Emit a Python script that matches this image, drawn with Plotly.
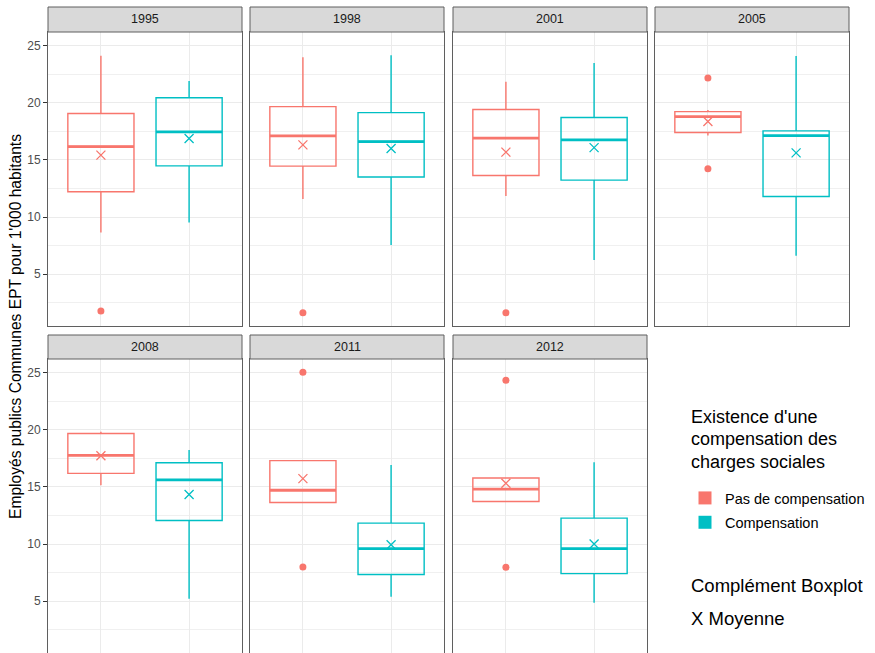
import plotly.graph_objects as go

# ---------------- data ----------------
years = ["1995", "1998", "2001", "2005", "2008", "2011", "2012"]
groups = ["Pas de compensation", "Compensation"]

red_lo   = [8.65, 11.57, 11.84, 17.13, 15.15, 13.63, 13.72]
red_q1   = [12.21, 14.46, 13.64, 17.40, 16.19, 13.63, 13.72]
red_med  = [16.17, 17.11, 16.90, 18.79, 17.76, 14.71, 14.80]
red_q3   = [19.06, 19.67, 19.41, 19.23, 19.68, 17.30, 15.78]
red_hi   = [24.13, 23.98, 21.85, 19.38, 19.83, 17.30, 15.78]
red_mean = [15.42, 16.32, 15.68, 18.36, 17.73, 15.73, 15.32]
red_out  = [[1.78], [1.63], [1.63], [22.18, 14.22], [], [25.03, 7.99], [24.33, 7.97]]

teal_lo   = [9.53, 7.55, 6.24, 6.62, 5.20, 5.38, 4.85]
teal_q1   = [14.48, 13.50, 13.23, 11.80, 12.06, 7.33, 7.41]
teal_med  = [17.46, 16.61, 16.76, 17.13, 15.61, 9.59, 9.59]
teal_q3   = [20.45, 19.14, 18.71, 17.54, 17.12, 11.83, 12.27]
teal_hi   = [21.91, 24.16, 23.49, 24.10, 18.23, 16.92, 17.15]
teal_mean = [16.87, 16.00, 16.08, 15.62, 14.33, 9.94, 10.00]
teal_out  = [[], [], [], [], [], [], []]

y_ticks = [5, 10, 15, 20, 25]
y_minor = [2.5, 7.5, 12.5, 17.5, 22.5]

legend_title_lines = ["Existence d'une", "compensation des", "charges sociales"]

# ---------------- style ----------------
W, H = 875, 653
RED, TEAL = "#F8766D", "#00BFC4"
FONT = "Liberation Sans, Arial, sans-serif"
BORDER = "#5f5f5f"
BOX_W = 0.75

col_px = [(48, 242), (250, 444), (453, 647), (655, 849)]
row_px = [((7, 32), (32, 326)), ((335, 359), (359, 653))]

all_vals = red_lo + teal_lo + red_hi + teal_hi + [v for o in red_out + teal_out for v in o]
vmin, vmax = min(all_vals), max(all_vals)
pad = 0.05 * (vmax - vmin)
y_range = [vmin - pad, vmax + pad]

series = [
    (groups[0], RED, red_lo, red_q1, red_med, red_q3, red_hi, red_mean, red_out),
    (groups[1], TEAL, teal_lo, teal_q1, teal_med, teal_q3, teal_hi, teal_mean, teal_out),
]

fig = go.Figure()
shapes, annotations = [], []

for i, yr in enumerate(years):
    r, c = divmod(i, 4)
    n = i + 1
    xr = "x" if n == 1 else f"x{n}"
    yrf = "y" if n == 1 else f"y{n}"
    for gi, (name, color, lo, q1, med, q3, hi, mean, out) in enumerate(series):
        pos = gi + 1
        fig.add_trace(go.Box(
            x=[pos], q1=[q1[i]], median=[med[i]], q3=[q3[i]],
            lowerfence=[lo[i]], upperfence=[hi[i]],
            width=BOX_W, whiskerwidth=0, boxpoints=False,
            line=dict(color=color, width=1.4), fillcolor="rgba(255,255,255,0)",
            xaxis=xr, yaxis=yrf, showlegend=False, hoverinfo="skip"))
        # thick median
        fig.add_trace(go.Scatter(
            x=[pos - BOX_W / 2, pos + BOX_W / 2], y=[med[i], med[i]], mode="lines",
            line=dict(color=color, width=2.8), xaxis=xr, yaxis=yrf,
            showlegend=False, hoverinfo="skip"))
        # mean
        fig.add_trace(go.Scatter(
            x=[pos], y=[mean[i]], mode="markers",
            marker=dict(symbol="x-thin-open", size=9, color=color,
                        line=dict(color=color, width=1.3)),
            xaxis=xr, yaxis=yrf, showlegend=False, hoverinfo="skip"))
        # outliers
        if out[i]:
            fig.add_trace(go.Scatter(
                x=[pos] * len(out[i]), y=out[i], mode="markers",
                marker=dict(symbol="circle", size=7, color=color),
                xaxis=xr, yaxis=yrf, showlegend=False, hoverinfo="skip"))

    (s0, s1), (p0, p1) = row_px[r]
    x0, x1 = col_px[c]
    fig.layout[f"xaxis{'' if n == 1 else n}"] = dict(
        domain=[x0 / W, x1 / W], range=[0.4, 2.6], tickvals=[1, 2],
        showticklabels=False, ticks="", showgrid=True, gridcolor="#EBEBEB", gridwidth=1.1,
        zeroline=False, showline=True, mirror=True, linecolor=BORDER, linewidth=1,
        anchor=yrf, fixedrange=True)
    fig.layout[f"yaxis{'' if n == 1 else n}"] = dict(
        domain=[1 - p1 / H, 1 - p0 / H], range=y_range, tickvals=y_ticks,
        showticklabels=(c == 0), ticks="outside" if c == 0 else "", ticklen=4,
        tickcolor="#333333", tickwidth=1,
        tickfont=dict(size=12, color="#4D4D4D", family=FONT),
        showgrid=True, gridcolor="#EBEBEB", gridwidth=1.1,
        minor=dict(tickvals=y_minor, showgrid=True, gridcolor="#F0F0F0", gridwidth=0.6),
        zeroline=False, showline=True, mirror=True, linecolor=BORDER, linewidth=1,
        anchor=xr, fixedrange=True)
    # strip
    shapes.append(dict(type="rect", xref="paper", yref="paper",
                       x0=x0 / W, x1=x1 / W, y0=1 - s1 / H, y1=1 - s0 / H,
                       fillcolor="#D9D9D9", line=dict(color=BORDER, width=1), layer="above"))
    annotations.append(dict(text=yr, xref="paper", yref="paper",
                            x=(x0 + x1) / 2 / W, y=1 - (s0 + s1) / 2 / H,
                            showarrow=False, xanchor="center", yanchor="middle",
                            font=dict(size=12.5, color="#1A1A1A", family=FONT)))

# legend entries
for k, (name, color) in enumerate([(groups[0], RED), (groups[1], TEAL)]):
    fig.add_trace(go.Scatter(x=[None], y=[None], mode="markers", name=name,
                             legendgroup=f"g{k}",
                             marker=dict(symbol="square", size=13, color=color),
                             showlegend=True))

annotations.append(dict(text="Employés publics Communes EPT pour 1'000 habitants",
                        xref="paper", yref="paper", x=16 / W, y=1 - 327 / H,
                        textangle=-90, showarrow=False, xanchor="center", yanchor="middle",
                        font=dict(size=15.6, color="#000000", family=FONT)))
for j, line in enumerate(legend_title_lines):
    annotations.append(dict(text=line, xref="paper", yref="paper",
                            x=689 / W, y=1 - (416.7 + 22.5 * j) / H, showarrow=False,
                            xanchor="left", yanchor="middle",
                            font=dict(size=18, color="#000000", family=FONT)))
annotations.append(dict(text="Complément Boxplot", xref="paper", yref="paper",
                        x=689 / W, y=1 - 585 / H, showarrow=False, xanchor="left",
                        yanchor="middle", font=dict(size=18.5, color="#000000", family=FONT)))
annotations.append(dict(text="X Moyenne", xref="paper", yref="paper",
                        x=689 / W, y=1 - 618 / H, showarrow=False, xanchor="left",
                        yanchor="middle", font=dict(size=18.5, color="#000000", family=FONT)))

fig.update_layout(
    width=W, height=H, margin=dict(l=0, r=0, t=0, b=0),
    paper_bgcolor="white", plot_bgcolor="white",
    font=dict(family=FONT),
    shapes=shapes, annotations=annotations,
    legend=dict(x=685 / W, y=1 - 482 / H, xanchor="left", yanchor="top",
                font=dict(size=14.5, color="#000000", family=FONT),
                bgcolor="rgba(0,0,0,0)", tracegroupgap=2.5),
)

fig.write_html("out.html")
